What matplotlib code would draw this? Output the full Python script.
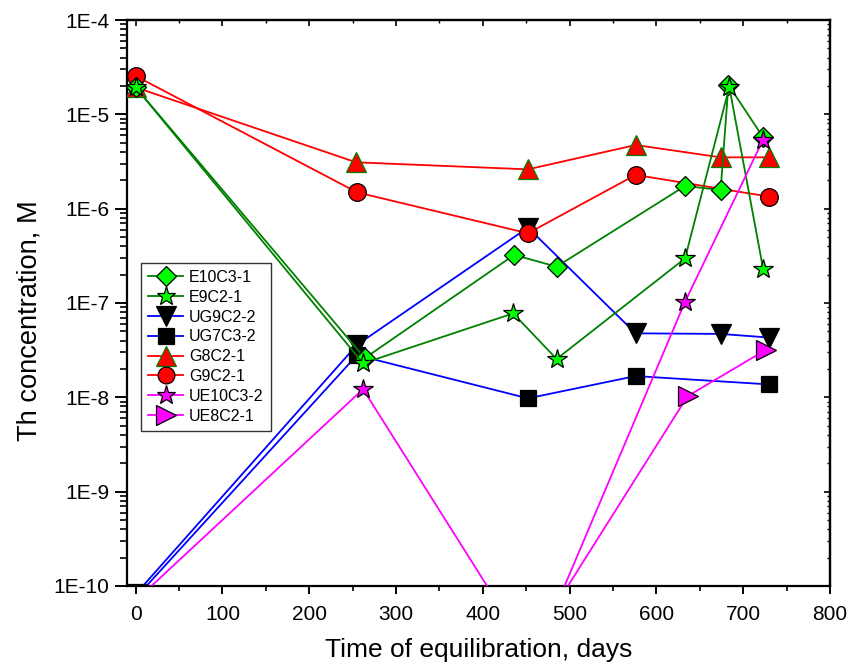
import numpy as np
import matplotlib
matplotlib.use("Agg")
import matplotlib.pyplot as plt
from matplotlib.ticker import LogLocator, FuncFormatter, MultipleLocator, NullFormatter

plt.rcParams['font.family'] = ['Liberation Sans', 'DejaVu Sans']

# ===================== 数据 =====================
e10c3_x = [0, 264, 436, 485, 633, 674, 683, 723]
e10c3_y = [1.93e-5, 2.6e-8, 3.23e-7, 2.43e-7, 1.74e-6, 1.58e-6, 2.05e-5, 5.7e-6]

e9c2_x = [0, 262, 435, 485, 633, 684, 723]
e9c2_y = [1.93e-5, 2.29e-8, 7.76e-8, 2.55e-8, 2.97e-7, 1.95e-5, 2.29e-7]

ug9c2_x = [0, 255, 452, 576, 674, 730]
ug9c2_y = [8.2e-11, 3.6e-8, 6.3e-7, 4.77e-8, 4.7e-8, 4.3e-8]

ug7c3_x = [0, 255, 452, 576, 730]
ug7c3_y = [7.5e-11, 2.8e-8, 9.75e-9, 1.68e-8, 1.37e-8]

g8c2_x = [0, 254, 452, 576, 674, 730]
g8c2_y = [1.93e-5, 3.1e-6, 2.61e-6, 4.73e-6, 3.5e-6, 3.5e-6]

g9c2_x = [0, 255, 452, 576, 730]
g9c2_y = [2.55e-5, 1.49e-6, 5.48e-7, 2.28e-6, 1.34e-6]

ue10c3_x = [0, 262, 437, 487, 633, 723]
ue10c3_y = [7e-11, 1.22e-8, 3.4e-11, 7e-11, 1.03e-7, 5.4e-6]

ue8c2_x = [487, 636, 726]
ue8c2_y = [6.9e-11, 1.03e-8, 3.18e-8]

# label, x, y, marker, size, line colour, face colour, edge colour, zorder
SERIES = [
    ("E10C3-1", e10c3_x, e10c3_y, "D", 10.5, "#008000", "#00FF00", "black", 5),
    ("E9C2-1", e9c2_x, e9c2_y, "*", 15, "#008000", "#00FF00", "black", 6),
    ("UG9C2-2", ug9c2_x, ug9c2_y, "v", 15, "#0000FF", "black", "black", 2),
    ("UG7C3-2", ug7c3_x, ug7c3_y, "s", 12, "#0000FF", "black", "black", 2),
    ("G8C2-1", g8c2_x, g8c2_y, "^", 15, "#FF0000", "#FF0000", "#008000", 3),
    ("G9C2-1", g9c2_x, g9c2_y, "o", 12.7, "#FF0000", "#FF0000", "black", 4),
    ("UE10C3-2", ue10c3_x, ue10c3_y, "*", 15, "#FF00FF", "#FF00FF", "black", 7),
    ("UE8C2-1", ue8c2_x, ue8c2_y, ">", 15, "#FF00FF", "#FF00FF", "black", 7),
]

fig = plt.figure(figsize=(8.49, 6.69), dpi=100)
ax = fig.add_axes([0.1496, 0.1241, 0.828, 0.846])

for label, xs, ys, mk, ms, lc, fc, ec, z in SERIES:
    ax.plot(xs, ys, color=lc, lw=1.3, marker=mk, markersize=ms,
            markerfacecolor=fc, markeredgecolor=ec, markeredgewidth=0.9,
            label=label, zorder=z)

ax.set_yscale("log")
ax.set_xlim(-10, 800)
ax.set_ylim(1e-10, 1e-4)

ax.xaxis.set_major_locator(MultipleLocator(100))
ax.xaxis.set_minor_locator(MultipleLocator(50))
ax.yaxis.set_major_locator(LogLocator(base=10, numticks=20))
ax.yaxis.set_minor_locator(LogLocator(base=10, subs=np.arange(2, 10), numticks=20))
ax.yaxis.set_major_formatter(FuncFormatter(lambda v, p: f"1E{int(round(np.log10(v)))}"))
ax.yaxis.set_minor_formatter(NullFormatter())

for sp in ax.spines.values():
    sp.set_linewidth(1.6)

ax.tick_params(axis="y", which="major", direction="out", length=8.5, width=1.4, labelsize=15, pad=4)
ax.tick_params(axis="y", which="minor", direction="out", length=5, width=1.2)
ax.tick_params(axis="x", which="major", direction="out", length=5.5, width=1.4, labelsize=15, pad=8)
ax.tick_params(axis="x", which="minor", direction="out", length=3.5, width=1.2)

# 镜像刻度（朝内）
top = ax.secondary_xaxis("top")
top.xaxis.set_major_locator(MultipleLocator(100))
top.xaxis.set_minor_locator(MultipleLocator(50))
top.tick_params(which="major", direction="in", length=4, width=1.2, labeltop=False)
top.tick_params(which="minor", direction="in", length=2.5, width=1.0)
top.spines["top"].set_linewidth(1.6)

right = ax.secondary_yaxis("right")
right.yaxis.set_major_locator(LogLocator(base=10, numticks=20))
right.yaxis.set_minor_locator(LogLocator(base=10, subs=np.arange(2, 10), numticks=20))
right.tick_params(which="major", direction="in", length=4, width=1.2, labelright=False)
right.tick_params(which="minor", direction="in", length=2.5, width=1.0, labelright=False)
right.spines["right"].set_linewidth(1.6)

ax.set_xlabel("Time of equilibration, days", fontsize=19, labelpad=10)
ax.set_ylabel("Th concentration, M", fontsize=19.6)
ax.yaxis.set_label_coords(-0.120, 0.468)

leg = ax.legend(loc="upper left", bbox_to_anchor=(0.02, 0.571), borderaxespad=0,
                fontsize=11.5, frameon=True, fancybox=False, edgecolor="black",
                markerscale=0.95, handlelength=2.2, handletextpad=0.35,
                labelspacing=0.3, borderpad=0.45)
leg.get_frame().set_linewidth(1.0)

fig.savefig("out.png", dpi=100)
